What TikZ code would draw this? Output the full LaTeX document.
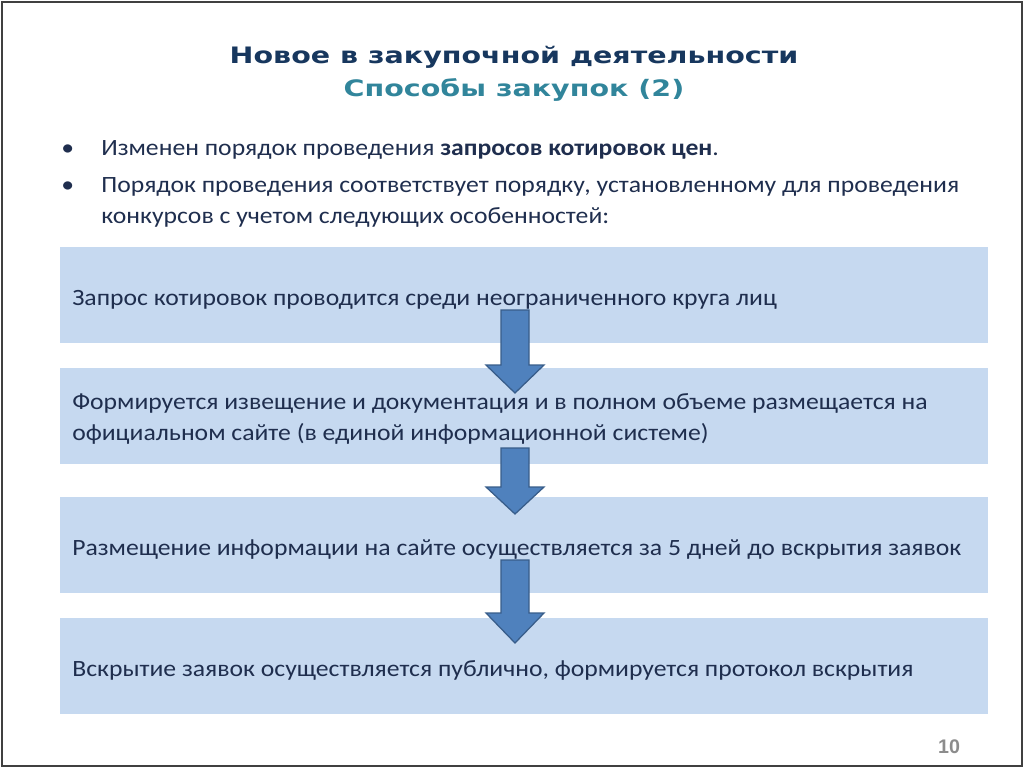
\documentclass[tikz,border=0pt]{standalone}
\usepackage{fontspec}
\setmainfont[FakeStretch=1.1]{Carlito}
\newfontfamily\headfont[FakeStretch=1.26]{DejaVu Sans}
\newfontfamily\numfont{Liberation Sans}

\definecolor{bandblue}{RGB}{198,217,240}
\definecolor{arrowfill}{RGB}{79,129,189}
\definecolor{arrowline}{RGB}{56,93,138}
\definecolor{titlenavy}{RGB}{23,55,94}
\definecolor{subteal}{RGB}{49,133,155}
\definecolor{bodyink}{RGB}{31,46,78}

\begin{document}
\begin{tikzpicture}[x=0.025cm,y=-0.025cm,
  band/.style={fill=bandblue,draw=none,minimum width=23.2cm,minimum height=2.4cm,inner sep=0pt},
  line/.style={anchor=base west,inner sep=0pt,text=bodyink,font=\fontsize{16.6}{20}\selectfont},
  head/.style={anchor=base,inner sep=0pt,font=\headfont\bfseries\fontsize{16.1}{18}\selectfont},
  blockarrow/.style={fill=arrowfill,draw=arrowline,line width=0.9pt,line join=miter}]
\useasboundingbox (0,0) rectangle (1024,768);
\draw[black!75,line width=0.05cm] (2,2) rectangle (1022,766);

% title
\node[head,text=titlenavy] (t_main) at (514,64) {Новое в закупочной деятельности};
\node[head,text=subteal] (t_sub) at (514,97) {Способы закупок (2)};

% bullets
\node[line] (d1) at (61,155) {•};
\node[line] (l1) at (101,155) {Изменен порядок проведения \textbf{запросов котировок цен}.};
\node[line] (d2) at (61,192) {•};
\node[line] (l2) at (101,192) {Порядок проведения соответствует порядку, установленному для проведения};
\node[line] (l3) at (101,223) {конкурсов с учетом следующих особенностей:};

% bands
\node[band] (b1) at (524,295) {};
\node[band] (b2) at (524,416) {};
\node[band] (b3) at (524,545) {};
\node[band] (b4) at (524,666) {};
\node[line] (b1_t) at (72,305) {Запрос котировок проводится среди неограниченного круга лиц};
\node[line] (b2_t) at (72,409) {Формируется извещение и документация и в полном объеме размещается на};
\node[line] (b2_u) at (72,440) {официальном сайте (в единой информационной системе)};
\node[line] (b3_t) at (72,555) {Размещение информации на сайте осуществляется за 5 дней до вскрытия заявок};
\node[line] (b4_t) at (72,676) {Вскрытие заявок осуществляется публично, формируется протокол вскрытия};

% arrows
\foreach \ya/\yb/\yc in {310/365/393, 448/487/514, 560/613/643}
  \draw[blockarrow] (501,\ya) -- (529,\ya) -- (529,\yb) -- (544,\yb) -- (515,\yc) -- (486,\yb) -- (501,\yb) -- cycle;

\node[anchor=base,inner sep=0pt,text=black!45,font=\numfont\bfseries\fontsize{14}{16}\selectfont] (pg) at (949,753) {10};
\end{tikzpicture}
\end{document}
